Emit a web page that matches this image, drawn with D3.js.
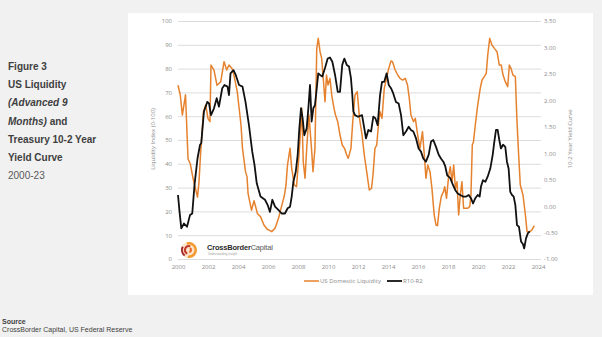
<!DOCTYPE html>
<html>
<head>
<meta charset="utf-8">
<script src="https://cdn.jsdelivr.net/npm/d3@7"></script>
<style>
  html, body { margin: 0; padding: 0; background: #f1f1f1; }
  svg { display: block; }
</style>
</head>
<body>
<div id="chart"></div>
<script>
// US Domestic Liquidity (left axis, 0-100)
var liqYears = [2000.00,2000.15,2000.29,2000.50,2000.67,2000.82,2001.00,2001.30,2001.40,2001.50,2001.70,2001.85,2002.00,2002.13,2002.20,2002.40,2002.60,2002.85,2003.07,2003.25,2003.40,2003.60,2003.73,2003.95,2004.20,2004.30,2004.50,2004.60,2004.67,2004.90,2005.07,2005.30,2005.50,2005.73,2005.95,2006.10,2006.25,2006.47,2006.70,2006.90,2007.10,2007.20,2007.30,2007.47,2007.58,2007.75,2007.90,2008.07,2008.25,2008.35,2008.47,2008.58,2008.73,2008.90,2009.00,2009.13,2009.25,2009.35,2009.47,2009.58,2009.70,2009.80,2009.90,2010.00,2010.13,2010.25,2010.40,2010.50,2010.65,2010.80,2010.95,2011.10,2011.25,2011.35,2011.53,2011.65,2011.80,2011.95,2012.10,2012.27,2012.42,2012.58,2012.75,2012.90,2013.00,2013.13,2013.25,2013.38,2013.47,2013.60,2013.75,2013.90,2014.05,2014.20,2014.30,2014.48,2014.65,2014.80,2014.98,2015.15,2015.30,2015.42,2015.53,2015.70,2015.82,2015.98,2016.13,2016.30,2016.42,2016.53,2016.65,2016.80,2016.93,2017.08,2017.20,2017.30,2017.42,2017.55,2017.70,2017.78,2017.90,2018.05,2018.15,2018.27,2018.38,2018.49,2018.60,2018.71,2018.82,2018.93,2019.04,2019.15,2019.30,2019.45,2019.53,2019.62,2019.70,2019.82,2019.98,2020.15,2020.27,2020.42,2020.55,2020.65,2020.78,2020.93,2021.09,2021.27,2021.42,2021.55,2021.67,2021.82,2021.98,2022.09,2022.20,2022.33,2022.49,2022.60,2022.71,2022.82,2023.00,2023.16,2023.27,2023.45,2023.60,2023.75];
var liqValues = [73,69,60.5,69,42,40,34,26,32.5,43.7,62,64.7,59,57.7,81.5,79.4,73,74.5,82.9,79.4,81.5,80,77.3,70.3,56.3,46.5,36.7,34.6,27.6,20.5,24.5,19,17.8,14.3,12.5,12,11.5,12.9,17.1,22,26.9,31.1,39.5,46.5,38.1,31.1,30.4,43.7,63.3,40.9,33.9,46.5,60.5,46.5,36.7,46.5,88.5,92.7,87.1,84.3,74.5,66.1,77.3,73.1,75.9,68.9,63.3,60.5,57.7,52.1,47.9,46.5,43.7,42.3,46.5,57.7,68.9,70.3,59.1,52.1,43.7,36.7,29,29.7,35.3,46.5,47.9,57.7,61.9,59.1,71.7,75.9,80.1,83.2,82.9,79.4,77.3,75.9,75.2,75.9,73.1,67.5,60.5,57.7,59.1,52.1,46.5,53.5,43.7,33.9,39.5,36.7,29.7,18.5,14.3,14,21.3,26.2,28.3,30.4,25.5,35.3,38.8,32.5,39.5,29.7,32.5,18.5,26.9,32.5,21.3,21.3,21.3,22,26.9,47.9,49.3,56.3,64.7,71.7,75.2,76.6,78,85.7,92.7,89.9,88.5,87.1,81.5,81.5,77.3,74.5,72.4,81.5,80.1,77.3,76.6,57.7,43.7,31.1,26.9,18.5,11.5,11.5,12.2,14];

// R10-R2 yield curve (right axis, %)
var curveYears = [2000.00,2000.10,2000.22,2000.40,2000.60,2000.80,2000.95,2001.10,2001.30,2001.47,2001.55,2001.73,2001.95,2002.07,2002.20,2002.40,2002.58,2002.73,2002.95,2003.10,2003.30,2003.40,2003.50,2003.70,2003.85,2004.07,2004.30,2004.50,2004.73,2004.95,2005.10,2005.25,2005.50,2005.80,2005.98,2006.13,2006.29,2006.47,2006.69,2006.91,2007.13,2007.31,2007.47,2007.58,2007.69,2007.85,2007.98,2008.09,2008.20,2008.31,2008.42,2008.58,2008.69,2008.80,2008.91,2009.02,2009.13,2009.25,2009.35,2009.47,2009.62,2009.80,2009.98,2010.13,2010.29,2010.47,2010.65,2010.80,2010.95,2011.09,2011.25,2011.40,2011.53,2011.62,2011.69,2011.80,2012.00,2012.27,2012.42,2012.53,2012.69,2012.87,2013.02,2013.16,2013.31,2013.47,2013.60,2013.75,2013.91,2014.05,2014.20,2014.35,2014.53,2014.71,2014.87,2015.02,2015.20,2015.38,2015.53,2015.69,2015.87,2016.04,2016.20,2016.35,2016.53,2016.71,2016.87,2017.02,2017.20,2017.38,2017.53,2017.69,2017.82,2017.95,2018.15,2018.33,2018.49,2018.65,2018.82,2019.00,2019.22,2019.38,2019.53,2019.67,2019.82,2019.98,2020.11,2020.20,2020.33,2020.49,2020.65,2020.82,2020.98,2021.09,2021.20,2021.31,2021.42,2021.53,2021.67,2021.82,2021.93,2022.04,2022.15,2022.27,2022.38,2022.49,2022.60,2022.73,2022.87,2023.00,2023.08,2023.20,2023.33,2023.45];
var curveValues = [0.21,-0.10,-0.42,-0.33,-0.39,-0.17,-0.14,0.40,0.90,1.16,1.19,1.79,1.97,1.94,1.72,1.85,2.04,1.88,2.23,2.29,2.26,2.10,2.51,2.57,2.48,2.29,2.26,1.97,1.53,1.03,0.78,0.43,0.18,0.12,0.02,-0.11,0.12,-0.01,-0.07,-0.14,-0.14,-0.04,-0.01,0.18,0.46,0.65,0.97,1.47,1.85,1.66,1.34,1.47,1.85,2.29,1.60,1.85,1.91,2.23,2.51,2.48,2.45,2.61,2.79,2.81,2.73,2.48,2.16,2.16,2.67,2.79,2.67,2.64,2.42,2.10,1.79,1.72,1.69,1.72,1.47,1.28,1.44,1.41,1.69,1.66,1.53,2.10,2.35,2.35,2.51,2.29,2.23,2.13,1.97,1.94,1.72,1.34,1.41,1.50,1.44,1.41,1.28,1.09,1.03,0.90,0.84,0.97,1.22,1.25,1.12,0.97,0.90,0.84,0.75,0.58,0.53,0.40,0.30,0.24,0.21,0.18,0.18,0.21,0.15,0.05,0.15,0.21,0.18,0.37,0.49,0.46,0.56,0.71,0.97,1.22,1.44,1.44,1.25,1.09,1.16,1.12,0.84,0.71,0.27,0.21,0.18,0.02,-0.36,-0.39,-0.67,-0.72,-0.80,-0.61,-0.51,-0.48];

var xTicks = [2000,2002,2004,2006,2008,2010,2012,2014,2016,2018,2020,2022,2024];
var leftTicks = [0,10,20,30,40,50,60,70,80,90,100];
var rightTicks = [-1,-0.5,0,0.5,1,1.5,2,2.5,3,3.5];

var sideLines = [
    {text: "Figure 3", weight: "bold", style: "normal", color: "#3f3f3f"},
    {text: "US Liquidity", weight: "bold", style: "normal", color: "#3f3f3f"},
    {text: "(Advanced 9", weight: "bold", style: "italic", color: "#3f3f3f"},
    {text: "Months) and", weight: "bold", style: "mixed", color: "#3f3f3f"},
    {text: "Treasury 10-2 Year", weight: "bold", style: "normal", color: "#3f3f3f"},
    {text: "Yield Curve", weight: "bold", style: "normal", color: "#3f3f3f"},
    {text: "2000-23", weight: "normal", style: "normal", color: "#595959"}
];

var W = 602, H = 337;
var orange = "#e6822e";

var svg = d3.select("#chart").append("svg")
    .attr("width", W)
    .attr("height", H);

svg.append("rect").attr("width", W).attr("height", H).attr("fill", "#f1f1f1");
// white chart panel
svg.append("rect")
    .attr("x", 128).attr("y", 13)
    .attr("width", 465).attr("height", 282)
    .attr("fill", "#ffffff");

var x = d3.scaleLinear().domain([2000, 2024]).range([178, 538]);
var yL = d3.scaleLinear().domain([0, 100]).range([259, 21]);
var yR = d3.scaleLinear().domain([-1, 3.5]).range([259, 21]);

var labelFont = "'Open Sans', sans-serif";
var tickColor = "#8a8a8a";

// gridlines + left axis labels
var gLeft = svg.append("g")
    .attr("transform", "translate(178,0)")
    .call(d3.axisLeft(yL).tickValues(leftTicks).tickSize(-363).tickPadding(6));
gLeft.select(".domain").remove();
gLeft.selectAll(".tick line").attr("stroke", "#dcdcdc").attr("stroke-width", 1);
gLeft.selectAll(".tick text")
    .attr("fill", tickColor)
    .style("font-family", labelFont)
    .style("font-size", "6px");

// right axis labels
var gRight = svg.append("g")
    .attr("transform", "translate(541,0)")
    .call(d3.axisRight(yR).tickValues(rightTicks).tickSize(0).tickPadding(3)
        .tickFormat(function(d){ return d.toFixed(2); }));
gRight.select(".domain").remove();
gRight.selectAll(".tick text")
    .attr("fill", tickColor)
    .style("font-family", labelFont)
    .style("font-size", "6px");

// bottom axis labels
var gBottom = svg.append("g")
    .attr("transform", "translate(0,259)")
    .call(d3.axisBottom(x).tickValues(xTicks).tickSize(0).tickPadding(6)
        .tickFormat(d3.format("d")));
gBottom.select(".domain").remove();
gBottom.selectAll(".tick text")
    .attr("fill", tickColor)
    .style("font-family", labelFont)
    .style("font-size", "6px");

// axis titles
svg.append("text")
    .attr("transform", "translate(155,139) rotate(-90)")
    .attr("text-anchor", "middle")
    .attr("fill", tickColor)
    .style("font-family", labelFont)
    .style("font-size", "6px")
    .text("Liquidity Index (0-100)");

svg.append("text")
    .attr("transform", "translate(572,139) rotate(-90)")
    .attr("text-anchor", "middle")
    .attr("fill", tickColor)
    .style("font-family", labelFont)
    .style("font-size", "6px")
    .text("10-2 Year Yield Curve");

// logo
var logo = svg.append("g").attr("transform", "translate(189,250)");
logo.append("circle").attr("r", 8).attr("fill", "#fbe3c8");
logo.append("path")
    .attr("d", d3.arc().innerRadius(5.5).outerRadius(8).startAngle(-0.3).endAngle(3.3)())
    .attr("fill", "#f29a2e");
logo.append("path")
    .attr("d", d3.arc().innerRadius(3).outerRadius(5).startAngle(3.6).endAngle(6.6)())
    .attr("fill", "#c0392b");
logo.append("path")
    .attr("d", d3.arc().innerRadius(1).outerRadius(3).startAngle(0.5).endAngle(3.0)())
    .attr("fill", "#e8661f");
logo.append("path")
    .attr("d", d3.arc().innerRadius(6).outerRadius(8).startAngle(3.8).endAngle(5.2)())
    .attr("fill", "#a3282a");

var logoText = svg.append("text")
    .attr("x", 207).attr("y", 250)
    .style("font-family", "'Liberation Sans', Arial, sans-serif")
    .style("font-size", "7.5px")
    .style("letter-spacing", "-0.2px");
logoText.append("tspan").attr("font-weight", "bold").attr("fill", "#2b2b2b").text("CrossBorder");
logoText.append("tspan").attr("fill", "#555").text("Capital");
svg.append("text")
    .attr("x", 208).attr("y", 255)
    .attr("fill", "#a0a0a0")
    .style("font-family", "'Liberation Sans', Arial, sans-serif")
    .style("font-size", "3px")
    .text("Understanding Insight");

// lines
var liqData = liqYears.map(function(d, i){ return [d, liqValues[i]]; });
var curveData = curveYears.map(function(d, i){ return [d, curveValues[i]]; });

svg.append("path")
    .datum(liqData)
    .attr("fill", "none")
    .attr("stroke", orange)
    .attr("stroke-width", 1.5)
    .attr("stroke-linejoin", "round")
    .attr("d", d3.line()
        .x(function(d){ return x(d[0]); })
        .y(function(d){ return yL(d[1]); }));

svg.append("path")
    .datum(curveData)
    .attr("fill", "none")
    .attr("stroke", "#111")
    .attr("stroke-width", 1.8)
    .attr("stroke-linejoin", "round")
    .attr("d", d3.line()
        .x(function(d){ return x(d[0]); })
        .y(function(d){ return yR(d[1]); }));

// legend
var legend = svg.append("g").style("font-family", labelFont).style("font-size", "6px");
legend.append("line").attr("x1", 304).attr("x2", 319).attr("y1", 281).attr("y2", 281)
    .attr("stroke", orange).attr("stroke-width", 1.5);
legend.append("text").attr("x", 320).attr("y", 283).attr("fill", tickColor).text("US Domestic Liquidity");
legend.append("line").attr("x1", 387).attr("x2", 402).attr("y1", 281).attr("y2", 281)
    .attr("stroke", "#111").attr("stroke-width", 1.8);
legend.append("text").attr("x", 403).attr("y", 283).attr("fill", tickColor).text("R10-R2");

// side title
var side = svg.append("g").style("font-family", "'Liberation Sans', Arial, sans-serif").style("font-size", "10px");
sideLines.forEach(function(l, i){
    var t = side.append("text")
        .attr("x", 8)
        .attr("y", 70 + i * 18.2)
        .attr("fill", l.color)
        .attr("font-weight", l.weight);
    if (l.style == "mixed") {
        t.append("tspan").attr("font-style", "italic").text("Months)");
        t.append("tspan").text(" and");
    } else {
        t.attr("font-style", l.style).text(l.text);
    }
});

// source
svg.append("text").attr("x", 2).attr("y", 324)
    .attr("fill", "#3f3f3f").attr("font-weight", "bold")
    .style("font-family", "'Liberation Sans', Arial, sans-serif").style("font-size", "7px")
    .text("Source");
svg.append("text").attr("x", 2).attr("y", 332)
    .attr("fill", "#3f3f3f")
    .style("font-family", "'Liberation Sans', Arial, sans-serif").style("font-size", "7px")
    .text("CrossBorder Capital, US Federal Reserve");
</script>
</body>
</html>
